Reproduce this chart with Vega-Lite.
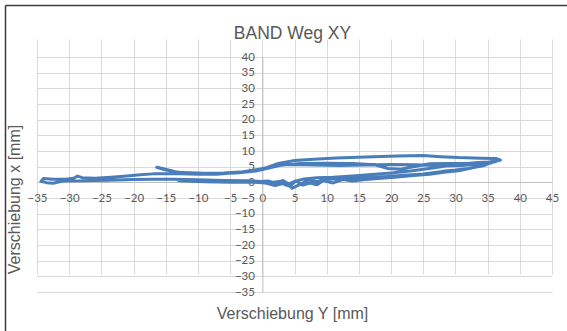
{
  "$schema": "https://vega.github.io/schema/vega-lite/v6.json",
  "width": 567,
  "height": 331,
  "autosize": {"type": "none"},
  "padding": 0,
  "background": "white",
  "config": {"view": {"stroke": null}, "font": "Liberation Sans"},
  "title": {"text": "BAND Weg XY", "fontSize": 17.5, "fontWeight": "normal", "color": "#595959", "font": "Liberation Sans", "anchor": "middle", "frame": "group", "offset": -42, "dx": 9},
  "data": {"values": [
    {"i":1,"y_mm":0.3,"x_mm":0.2},{"i":2,"y_mm":-2,"x_mm":0.5},{"i":3,"y_mm":-6,"x_mm":0.6},{"i":4,"y_mm":-10,"x_mm":0.8},{"i":5,"y_mm":-14,"x_mm":1.0},
    {"i":6,"y_mm":-17,"x_mm":1.0},{"i":7,"y_mm":-20,"x_mm":0.9},{"i":8,"y_mm":-24,"x_mm":0.7},{"i":9,"y_mm":-28,"x_mm":0.5},{"i":10,"y_mm":-31,"x_mm":0.4},
    {"i":11,"y_mm":-32.5,"x_mm":-0.3},{"i":12,"y_mm":-33.5,"x_mm":-0.1},{"i":13,"y_mm":-34.4,"x_mm":0.3},{"i":14,"y_mm":-34,"x_mm":1.2},{"i":15,"y_mm":-32.5,"x_mm":1.0},
    {"i":16,"y_mm":-30.5,"x_mm":1.0},{"i":17,"y_mm":-29.3,"x_mm":1.3},{"i":18,"y_mm":-28.7,"x_mm":2.0},{"i":19,"y_mm":-28,"x_mm":1.5},{"i":20,"y_mm":-26,"x_mm":1.3},
    {"i":21,"y_mm":-23.5,"x_mm":1.6},{"i":22,"y_mm":-21,"x_mm":2.0},{"i":23,"y_mm":-19,"x_mm":2.4},{"i":24,"y_mm":-17,"x_mm":2.7},{"i":25,"y_mm":-14,"x_mm":2.8},
    {"i":26,"y_mm":-10,"x_mm":2.6},{"i":27,"y_mm":-7,"x_mm":2.6},{"i":28,"y_mm":-4,"x_mm":3.1},{"i":29,"y_mm":-1.5,"x_mm":3.8},{"i":30,"y_mm":0.5,"x_mm":4.6},
    {"i":31,"y_mm":2.5,"x_mm":6.0},{"i":32,"y_mm":5,"x_mm":7.0},{"i":33,"y_mm":8,"x_mm":7.4},{"i":34,"y_mm":11.5,"x_mm":7.8},{"i":35,"y_mm":16,"x_mm":8.1},
    {"i":36,"y_mm":21,"x_mm":8.4},{"i":37,"y_mm":25,"x_mm":8.6},{"i":38,"y_mm":27.7,"x_mm":8.2},{"i":39,"y_mm":30.5,"x_mm":7.9},{"i":40,"y_mm":34,"x_mm":7.7},
    {"i":41,"y_mm":36.3,"x_mm":7.6},{"i":42,"y_mm":37.0,"x_mm":7.1},{"i":43,"y_mm":35.5,"x_mm":6.4},{"i":44,"y_mm":32,"x_mm":6.1},{"i":45,"y_mm":29,"x_mm":6.0},
    {"i":46,"y_mm":26,"x_mm":5.9},{"i":47,"y_mm":23.5,"x_mm":5.0},{"i":48,"y_mm":21.5,"x_mm":4.2},{"i":49,"y_mm":19.5,"x_mm":4.4},{"i":50,"y_mm":17.5,"x_mm":5.6},
    {"i":51,"y_mm":14,"x_mm":6.0},{"i":52,"y_mm":10,"x_mm":6.1},{"i":53,"y_mm":6,"x_mm":6.0},{"i":54,"y_mm":3,"x_mm":5.5},{"i":55,"y_mm":1,"x_mm":4.6},
    {"i":56,"y_mm":-1,"x_mm":3.6},{"i":57,"y_mm":-4,"x_mm":3.0},{"i":58,"y_mm":-8,"x_mm":2.7},{"i":59,"y_mm":-11.5,"x_mm":2.8},{"i":60,"y_mm":-13.5,"x_mm":3.4},
    {"i":61,"y_mm":-15.2,"x_mm":4.3},{"i":62,"y_mm":-16.4,"x_mm":4.8},{"i":63,"y_mm":-15,"x_mm":3.9},{"i":64,"y_mm":-12.5,"x_mm":3.1},{"i":65,"y_mm":-9,"x_mm":2.9},
    {"i":66,"y_mm":-6,"x_mm":3.0},{"i":67,"y_mm":-3,"x_mm":3.4},{"i":68,"y_mm":-0.5,"x_mm":4.2},{"i":69,"y_mm":1.5,"x_mm":5.1},{"i":70,"y_mm":4,"x_mm":5.7},
    {"i":71,"y_mm":8,"x_mm":5.5},{"i":72,"y_mm":12,"x_mm":5.4},{"i":73,"y_mm":16,"x_mm":5.5},{"i":74,"y_mm":20,"x_mm":5.7},{"i":75,"y_mm":24,"x_mm":5.6},
    {"i":76,"y_mm":28,"x_mm":5.2},{"i":77,"y_mm":31,"x_mm":5.4},{"i":78,"y_mm":34,"x_mm":5.9},{"i":79,"y_mm":36,"x_mm":6.8},{"i":80,"y_mm":34.5,"x_mm":5.4},
    {"i":81,"y_mm":32,"x_mm":4.4},{"i":82,"y_mm":30,"x_mm":3.9},{"i":83,"y_mm":28,"x_mm":3.5},{"i":84,"y_mm":25,"x_mm":2.7},{"i":85,"y_mm":22,"x_mm":2.3},
    {"i":86,"y_mm":19.5,"x_mm":1.9},{"i":87,"y_mm":16,"x_mm":1.4},{"i":88,"y_mm":13,"x_mm":1.2},{"i":89,"y_mm":10,"x_mm":1.0},{"i":90,"y_mm":8.5,"x_mm":0.2},
    {"i":91,"y_mm":7.2,"x_mm":0.8},{"i":92,"y_mm":6,"x_mm":-0.5},{"i":93,"y_mm":4.6,"x_mm":-1.9},{"i":94,"y_mm":4.0,"x_mm":-0.4},{"i":95,"y_mm":3.2,"x_mm":0.6},
    {"i":96,"y_mm":2.2,"x_mm":-0.3},{"i":97,"y_mm":1.0,"x_mm":0.4},{"i":98,"y_mm":-1,"x_mm":0.2},{"i":99,"y_mm":-5,"x_mm":0.3},{"i":100,"y_mm":-9,"x_mm":0.4},
    {"i":101,"y_mm":-13,"x_mm":0.5},{"i":102,"y_mm":-9,"x_mm":0.2},{"i":103,"y_mm":-5,"x_mm":0.0},{"i":104,"y_mm":-2,"x_mm":0.1},{"i":105,"y_mm":0.5,"x_mm":-0.2},
    {"i":106,"y_mm":2,"x_mm":-1.0},{"i":107,"y_mm":3.2,"x_mm":-0.4},{"i":108,"y_mm":4.3,"x_mm":-1.3},{"i":109,"y_mm":5.2,"x_mm":0.5},{"i":110,"y_mm":6.3,"x_mm":-0.9},
    {"i":111,"y_mm":7.4,"x_mm":-0.2},{"i":112,"y_mm":8.5,"x_mm":-0.8},{"i":113,"y_mm":9.5,"x_mm":0.6},{"i":114,"y_mm":11,"x_mm":-0.2},{"i":115,"y_mm":12.5,"x_mm":0.9},
    {"i":116,"y_mm":14,"x_mm":0.4},{"i":117,"y_mm":16,"x_mm":0.9},{"i":118,"y_mm":18.5,"x_mm":1.3},{"i":119,"y_mm":21,"x_mm":1.7},{"i":120,"y_mm":23.5,"x_mm":2.2},
    {"i":121,"y_mm":26,"x_mm":2.6},{"i":122,"y_mm":28.5,"x_mm":3.3},{"i":123,"y_mm":30.5,"x_mm":3.7},{"i":124,"y_mm":32.5,"x_mm":4.6},{"i":125,"y_mm":34.5,"x_mm":5.6},
    {"i":126,"y_mm":36.3,"x_mm":6.6},{"i":127,"y_mm":33.5,"x_mm":6.3},{"i":128,"y_mm":30,"x_mm":5.7},{"i":129,"y_mm":26.5,"x_mm":4.6},{"i":130,"y_mm":23,"x_mm":3.6},
    {"i":131,"y_mm":20,"x_mm":3.0},{"i":132,"y_mm":17,"x_mm":2.5},{"i":133,"y_mm":14,"x_mm":2.0},{"i":134,"y_mm":11,"x_mm":1.6},{"i":135,"y_mm":8.5,"x_mm":1.5},
    {"i":136,"y_mm":6.5,"x_mm":1.1},{"i":137,"y_mm":5,"x_mm":0.3},{"i":138,"y_mm":3.7,"x_mm":-0.9},{"i":139,"y_mm":2.5,"x_mm":0.3},{"i":140,"y_mm":1.2,"x_mm":-0.2},
    {"i":141,"y_mm":0,"x_mm":0}
  ]},
  "layer": [
    {
      "mark": {"type": "line", "color": "#4a7ebb", "strokeWidth": 3, "strokeJoin": "round", "strokeCap": "round"},
      "encoding": {
        "x": {
          "field": "y_mm", "type": "quantitative",
          "scale": {"domain": [-35, 45], "range": [37, 552], "nice": false, "zero": false},
          "axis": {
            "orient": "bottom", "offset": -149, "zindex": 0,
            "values": [-35,-30,-25,-20,-15,-10,-5,0,5,10,15,20,25,30,35,40,45],
            "grid": true, "gridColor": "#d9d9d9", "gridWidth": 1,
            "domain": true, "domainColor": "#bfbfbf", "domainWidth": 1,
            "ticks": false, "tickSize": 0,
            "labelFont": "Lato", "labelFontSize": 11.5, "labelColor": "#595959", "labelPadding": 10, "labelBaseline": "top",
            "labelOverlap": false, "labelFlush": false, "labelBound": false,
            "title": "Verschiebung Y [mm]", "titleFont": "Liberation Sans", "titleFontSize": 16, "titleFontWeight": "normal", "titleColor": "#595959",
            "titleX": 292, "titleY": 131, "titleAlign": "center", "titleBaseline": "middle", "titleAngle": 0
          }
        },
        "y": {
          "field": "x_mm", "type": "quantitative",
          "scale": {"domain": [-35, 40], "range": [292, 57], "nice": false, "zero": false},
          "axis": {
            "orient": "left", "offset": -262.4, "zindex": 0,
            "values": [-35,-30,-25,-20,-15,-10,-5,0,5,10,15,20,25,30,35,40],
            "grid": true, "gridColor": "#d9d9d9", "gridWidth": 1,
            "domain": true, "domainColor": "#bfbfbf", "domainWidth": 1,
            "ticks": false, "tickSize": 0,
            "labelFont": "Lato", "labelFontSize": 11.5, "labelColor": "#595959", "labelPadding": 8, "labelBaseline": "middle",
            "labelOverlap": false, "labelFlush": false, "labelBound": false,
            "title": "Verschiebung x [mm]", "titleFont": "Liberation Sans", "titleFontSize": 16, "titleFontWeight": "normal", "titleColor": "#595959",
            "titleX": -248, "titleY": 199, "titleAlign": "center", "titleBaseline": "middle", "titleAngle": -90
          }
        },
        "order": {"field": "i", "type": "quantitative"}
      }
    },
    {
      "mark": {"type": "point", "opacity": 0},
      "encoding": {
        "x": {
          "field": "y_mm", "type": "quantitative",
          "scale": {"domain": [-35, 45], "range": [5, 567], "nice": false, "zero": false},
          "axis": {"orient": "top", "offset": -5, "domain": true, "domainColor": "#3a3a3a", "domainWidth": 1.5, "ticks": false, "labels": false, "grid": false, "title": null}
        },
        "y": {
          "field": "x_mm", "type": "quantitative",
          "scale": {"domain": [-35, 40], "range": [331, 5], "nice": false, "zero": false},
          "axis": {"orient": "right", "offset": -562, "domain": true, "domainColor": "#3a3a3a", "domainWidth": 1.5, "ticks": false, "labels": false, "grid": false, "title": null}
        }
      }
    }
  ],
  "resolve": {"scale": {"x": "independent", "y": "independent"}, "axis": {"x": "independent", "y": "independent"}}
}
